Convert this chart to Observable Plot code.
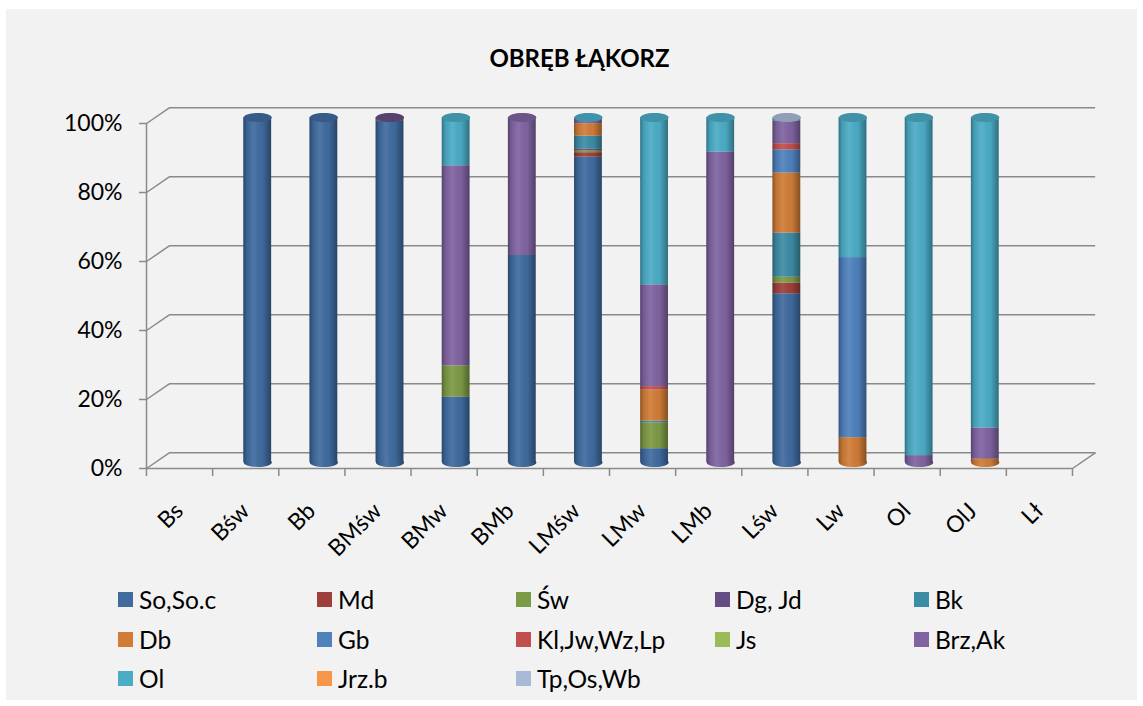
<!DOCTYPE html>
<html><head><meta charset="utf-8">
<script src="https://cdn.jsdelivr.net/npm/d3@7"></script>
<script src="https://cdn.jsdelivr.net/npm/@observablehq/plot@0.6"></script>
<style>
html,body{margin:0;padding:0;background:#fff;width:1143px;height:706px;overflow:hidden;position:relative;font-family:Lato,"Open Sans",sans-serif;}
#frame{position:absolute;left:6px;top:9px;width:1131px;height:691px;background:#F2F2F2;}
#title{position:absolute;left:579.5px;top:45.7px;transform:translateX(-50%);white-space:nowrap;font-weight:bold;font-size:24px;line-height:24px;color:#000;}
#plot{position:absolute;left:0;top:90px;}
.lg{position:absolute;display:flex;align-items:center;height:30px;font-size:24.5px;color:#000;white-space:nowrap;}
.lg span.sw{display:inline-block;width:15px;height:15px;margin-right:6px;}
</style></head>
<body>
<div id="frame"></div>
<div id="title">OBRĘB ŁĄKORZ</div>
<div id="plot"></div>
<div id="legend"></div>
<script>
const categories = ["Bs","Bśw","Bb","BMśw","BMw","BMb","LMśw","LMw","LMb","Lśw","Lw","Ol","OlJ","Lł"];
const seriesNames = ["So,So.c","Md","Św","Dg, Jd","Bk","Db","Gb","Kl,Jw,Wz,Lp","Js","Brz,Ak","Ol","Jrz.b","Tp,Os,Wb"];
const seriesColors = ["#3f6b9f","#9f3f3c","#7d9a45","#654e84","#3d8ca5","#d07c37","#4f81bd","#c0504d","#9bbb59","#8064a2","#4bacc6","#f79646","#a9b9d8"];
// values in % per category
const soSoc    = [0,100,100,99,19,60,88.5,4,0,48.9,0,0,0,0];
const md       = [0,0,0,0.3,0,0,1.3,0,0,3.1,0,0,0,0];
const sw       = [0,0,0,0,9,0,0.6,7.5,0,1.7,0,0,0,0];
const dgJd     = [0,0,0,0.7,0,0,0.5,0,0,0,0,0,0,0];
const bk       = [0,0,0,0,0,0,3.7,0.5,0,12.8,0,0,0,0];
const db       = [0,0,0,0,0,0,3.6,9,0,17.4,7.2,0,1,0];
const gb       = [0,0,0,0,0,0,0,0,0,6.7,52.2,0,0,0];
const klJwWzLp = [0,0,0,0,0,0,0,1,0,1.8,0,0,0,0];
const js       = [0,0,0,0,0,0,0,0,0,0,0,0,0,0];
const brzAk    = [0,0,0,0,58,40,1.4,29.5,90,6.5,0,2,9,0];
const ol       = [0,0,0,0,14,0,0.4,48.5,10,0.6,40.6,98,90,0];
const jrzB     = [0,0,0,0,0,0,0,0,0,0,0,0,0,0];
const tpOsWb   = [0,0,0,0,0,0,0,0,0,0.5,0,0,0,0];
const yTicks = [0,20,40,60,80,100];

const seriesValues = [soSoc, md, sw, dgJd, bk, db, gb, klJwWzLp, js, brzAk, ol, jrzB, tpOsWb];

// long table
const rows = [];
seriesValues.forEach((vals, s) => vals.forEach((v, i) => rows.push({i, cat: categories[i], series: seriesNames[s], color: seriesColors[s], value: v})));
// per-category totals, bottom / top series colour
const cols = categories.map((c, i) => {
  const present = seriesValues.map((vals, s) => ({s, v: vals[i]})).filter(d => d.v > 0);
  return {i, cat: c, total: d3.sum(present, d => d.v),
    bottom: present.length ? seriesColors[present[0].s] : null,
    top: present.length ? seriesColors[present[present.length - 1].s] : null};
}).filter(d => d.total > 0);

const GRID = "#8a8a8a";
const HALF = 0.21;          // half bar width (category units)
const DEPTH_X = 0.35;       // 3D depth in category units
const DEPTH_Y = 4.6;        // 3D depth in % units
const BX = 12, BY = -6;     // bar offset into depth (px)
const bounds = categories.map((_, i) => i - 0.5).concat([categories.length - 0.5]);
const x0 = -0.5, xN = categories.length - 0.5;

const ellipse = {draw(ctx) {
  const rx = 14, ry = 4.5, k = 0.5523;
  ctx.moveTo(rx, 0);
  ctx.bezierCurveTo(rx, ry*k, rx*k, ry, 0, ry);
  ctx.bezierCurveTo(-rx*k, ry, -rx, ry*k, -rx, 0);
  ctx.bezierCurveTo(-rx, -ry*k, -rx*k, -ry, 0, -ry);
  ctx.bezierCurveTo(rx*k, -ry, rx, -ry*k, rx, 0);
  ctx.closePath();
}};

const {x: _ignore, ...stacked} = Plot.stackY({x: "i", y: "value", x1: d => d.i - HALF, x2: d => d.i + HALF, fill: "color", dx: BX, dy: BY});

const chart = Plot.plot({
  width: 1143, height: 470,
  marginLeft: 146, marginRight: 71, marginTop: 33, marginBottom: 92,
  x: {type: "linear", domain: [x0, xN]},
  y: {domain: [0, 100]},
  color: {type: "identity"},
  style: {background: "transparent", fontFamily: "Lato, 'Open Sans', sans-serif", fontSize: "23px", color: "#000", overflow: "visible"},
  marks: [
    // back wall grid lines
    Plot.ruleY(yTicks, {y: d => d + DEPTH_Y, x1: () => x0 + DEPTH_X, x2: () => xN + DEPTH_X, stroke: GRID, strokeWidth: 1.5}),
    // left diagonals
    Plot.link(yTicks, {x1: () => x0, y1: d => d, x2: () => x0 + DEPTH_X, y2: d => d + DEPTH_Y, stroke: GRID, strokeWidth: 1.5}),
    // right floor diagonal
    Plot.link([0], {x1: () => xN, y1: d => d, x2: () => xN + DEPTH_X, y2: d => d + DEPTH_Y, stroke: GRID, strokeWidth: 1.5}),
    // front floor and vertical axis
    Plot.ruleY([0], {stroke: GRID, strokeWidth: 1.5}),
    Plot.ruleX([x0], {stroke: GRID, strokeWidth: 1.5}),
    Plot.axisY({ticks: yTicks, tickFormat: d => d + "%", tickSize: 7, tickPadding: 17, stroke: GRID, strokeWidth: 1.5, fill: "#000", fontSize: 23, label: null}),
    Plot.axisX({ticks: bounds, tickFormat: () => "", tickSize: 8, stroke: GRID, strokeWidth: 1.5, label: null}),
    // bottom ellipses
    Plot.dot(cols, {x: "i", y: () => 0, symbol: ellipse, fill: "bottom", dx: BX, dy: BY}),
    Plot.dot(cols, {x: "i", y: () => 0, symbol: ellipse, fill: "url(#cylShade)", dx: BX, dy: BY}),
    // stacked segments
    Plot.rectY(rows, stacked),
    // cylinder shading
    Plot.rectY(cols, {x1: d => d.i - HALF, x2: d => d.i + HALF, y1: () => 0, y2: "total", fill: "url(#cylShade)", dx: BX, dy: BY}),
    // top caps
    Plot.dot(cols, {x: "i", y: "total", symbol: ellipse, fill: d => d3.color(d.top).darker(0.45).formatHex(), dx: BX, dy: BY}),
    // category labels
    Plot.text(categories, {x: (d, i) => i, y: () => 0, text: d => d, rotate: -45, textAnchor: "end", lineAnchor: "bottom", dx: 5, dy: 44, fontSize: 23, fill: "#000"})
  ]
});

d3.select(chart).insert("defs", ":first-child").html(`
<linearGradient id="cylShade" x1="0" x2="1" y1="0" y2="0">
  <stop offset="0" stop-color="#000" stop-opacity="0.34"/>
  <stop offset="0.12" stop-color="#000" stop-opacity="0.1"/>
  <stop offset="0.38" stop-color="#fff" stop-opacity="0.08"/>
  <stop offset="0.7" stop-color="#000" stop-opacity="0.03"/>
  <stop offset="1" stop-color="#000" stop-opacity="0.36"/>
</linearGradient>`);
document.getElementById("plot").appendChild(chart);

// legend
const legend = document.getElementById("legend");
const rowCenters = [599.5, 639, 678];
seriesNames.forEach((name, k) => {
  const col = k % 5, row = Math.floor(k / 5);
  const el = document.createElement("div");
  el.className = "lg";
  el.style.left = (118 + 199 * col) + "px";
  el.style.top = (rowCenters[row] - 15) + "px";
  el.innerHTML = `<span class="sw" style="background:${seriesColors[k]}"></span>`;
  el.appendChild(document.createTextNode(name));
  legend.appendChild(el);
});
</script>
</body></html>
